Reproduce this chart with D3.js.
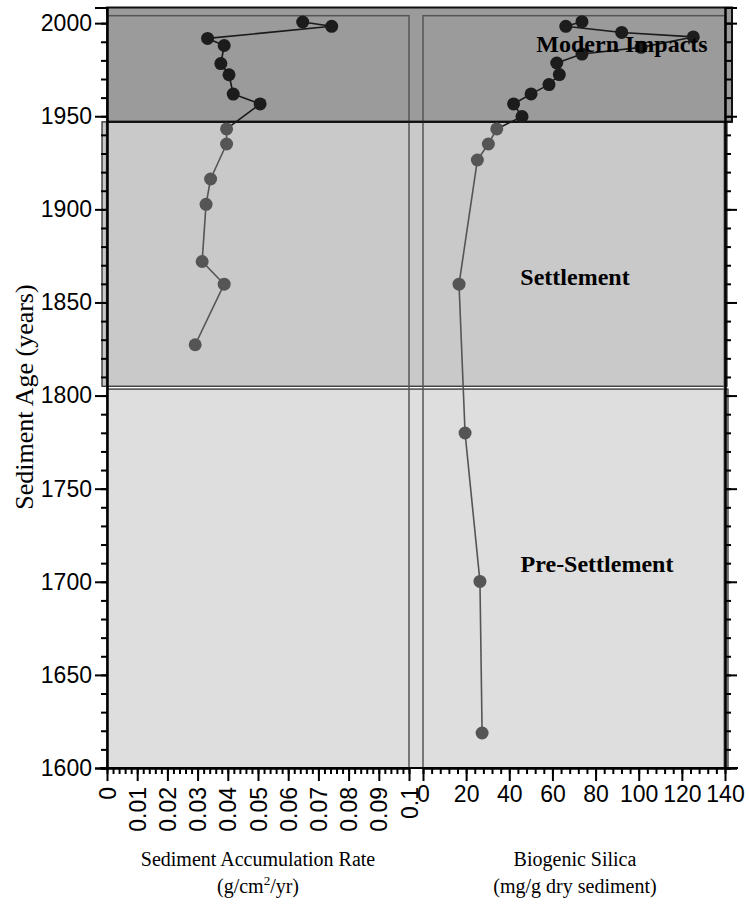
<!DOCTYPE html>
<html>
<head>
<meta charset="utf-8">
<script src="https://cdn.jsdelivr.net/npm/d3@7"></script>
<style>
  body { margin: 0; background: #fff; }
  .tick text { font-family: "Liberation Sans", Arial, sans-serif; font-size: 23px; fill: #000; }
  .domain, .tick line { stroke: #000; stroke-width: 2px; }
</style>
</head>
<body>
<div id="chart"></div>
<script>
// Sediment accumulation rate (left panel)
var rateYears  = [2000.6, 1998.3, 1991.8, 1988.0, 1978.3, 1972.3, 1961.9, 1956.6, 1943.2, 1935.1, 1916.3, 1902.7, 1872.0, 1859.8, 1827.3];
var rateValues = [0.0648, 0.0744, 0.0333, 0.0388, 0.0377, 0.0404, 0.0418, 0.0507, 0.0396, 0.0396, 0.0343, 0.0328, 0.0315, 0.0388, 0.0292];

// Biogenic silica (right panel)
var silicaYears  = [2000.8, 1998.3, 1995.0, 1992.6, 1987.0, 1983.4, 1978.6, 1972.4, 1967.0, 1962.0, 1956.6, 1949.8, 1943.2, 1935.1, 1926.5, 1859.8, 1779.9, 1700.2, 1618.8];
var silicaValues = [73.7, 66.2, 92.1, 125.3, 101.1, 73.7, 62.0, 63.2, 58.4, 50.1, 42.0, 45.9, 34.2, 30.3, 25.2, 16.7, 19.5, 26.4, 27.4];

// Periods
var periodNames = ["Modern Impacts", "Settlement", "Pre-Settlement"];
var periodStart = [1947, 1805, 1600];
var periodEnd   = [2008.4, 1947, 1803.5];

var yTicks = [1600, 1650, 1700, 1750, 1800, 1850, 1900, 1950, 2000];
var rateTicks = [0, 0.01, 0.02, 0.03, 0.04, 0.05, 0.06, 0.07, 0.08, 0.09, 0.1];
var silicaTicks = [0, 20, 40, 60, 80, 100, 120, 140];

var width = 749, height = 921;
var svg = d3.select("#chart").append("svg").attr("width", width).attr("height", height);

var y = d3.scaleLinear().domain([1600, 2008.4]).range([768, 7.5]);
var xRate = d3.scaleLinear().domain([0, 0.1]).range([107, 409]);
var xSil = d3.scaleLinear().domain([0, 140]).range([423, 725]);

// period bands
var bandFill = ["#9b9b9b", "#c9c9c9", "#dedede"];
var bandX0 = [107, 102, 107];
var bandX1 = [732, 727, 728];

// draw the lower bands first so the modern box sits on top
[2, 1].forEach(function(i) {
  svg.append("rect")
    .attr("x", bandX0[i]).attr("y", y(periodEnd[i]))
    .attr("width", bandX1[i] - bandX0[i]).attr("height", y(periodStart[i]) - y(periodEnd[i]))
    .attr("fill", bandFill[i]).attr("stroke", "#222").attr("stroke-width", 1.2);
});
svg.append("line").attr("x1", 106.5).attr("x2", 106.5)
  .attr("y1", y(periodEnd[1])).attr("y2", y(periodStart[1]))
  .attr("stroke", "#222").attr("stroke-width", 1.2);
svg.append("rect").attr("x", 723).attr("y", y(periodEnd[1])).attr("width", 4)
  .attr("height", y(1600) - y(periodEnd[1])).attr("fill", "#777").attr("opacity", 0.6);

svg.append("rect")
  .attr("x", bandX0[0]).attr("y", y(periodEnd[0]))
  .attr("width", bandX1[0] - bandX0[0]).attr("height", y(periodStart[0]) - y(periodEnd[0]))
  .attr("fill", bandFill[0]).attr("stroke", "#111").attr("stroke-width", 2);

// panel frames
[[107, 409], [423, 725]].forEach(function(p) {
  svg.append("rect").attr("x", p[0]).attr("y", y(2004)).attr("width", p[1] - p[0])
    .attr("height", y(1600) - y(2004))
    .attr("fill", "none").attr("stroke", "#555").attr("stroke-width", 1.5);
});

// modern band bottom border over frames
svg.append("line").attr("x1", 107).attr("x2", 732).attr("y1", y(1947)).attr("y2", y(1947))
  .attr("stroke", "#111").attr("stroke-width", 2);

// series
function drawSeries(xs, years, values) {
  var pts = years.map(function(d, i) { return { year: d, v: values[i] }; });
  for (var i = 0; i < pts.length - 1; i++) {
    var modern = pts[i].year > 1947;
    svg.append("line")
      .attr("x1", xs(pts[i].v)).attr("y1", y(pts[i].year))
      .attr("x2", xs(pts[i + 1].v)).attr("y2", y(pts[i + 1].year))
      .attr("stroke", modern ? "#1a1a1a" : "#555").attr("stroke-width", 1.6);
  }
  svg.append("g").selectAll("circle").data(pts).enter().append("circle")
    .attr("cx", function(d) { return xs(d.v); })
    .attr("cy", function(d) { return y(d.year); })
    .attr("r", 6.5)
    .attr("fill", function(d) { return d.year > 1947 ? "#1c1c1c" : "#555"; });
}
drawSeries(xRate, rateYears, rateValues);
drawSeries(xSil, silicaYears, silicaValues);

// y axes
var minorY = d3.range(1600, 2001, 10);
svg.append("g").attr("transform", "translate(107,0)")
  .call(d3.axisLeft(y).tickValues(minorY).tickSize(6).tickFormat(""));
svg.append("g").attr("transform", "translate(107,0)")
  .call(d3.axisLeft(y).tickValues(yTicks).tickSize(12).tickPadding(3).tickFormat(d3.format("d")));
svg.append("g").attr("transform", "translate(725,0)")
  .call(d3.axisRight(y).tickValues(minorY).tickSize(6).tickFormat(""));
svg.append("g").attr("transform", "translate(725,0)")
  .call(d3.axisRight(y).tickValues(yTicks).tickSize(12).tickFormat(""));
svg.selectAll(".domain").attr("stroke", "#000");

// x axes
svg.append("g").attr("transform", "translate(0,768)")
  .call(d3.axisBottom(xRate).tickValues(d3.range(0, 0.1001, 0.002)).tickSize(6).tickFormat("").tickSizeOuter(0));
var gr = svg.append("g").attr("transform", "translate(0,768)")
  .call(d3.axisBottom(xRate).tickValues(rateTicks).tickSize(13).tickSizeOuter(0)
    .tickFormat(function(d) { return d === 0 ? "0" : String(+d.toFixed(2)); }));
gr.selectAll(".tick text")
  .attr("text-anchor", "end").attr("y", 0).attr("dy", "0.35em")
  .attr("transform", "translate(0,19) rotate(-90)");

svg.append("g").attr("transform", "translate(0,768)")
  .call(d3.axisBottom(xSil).tickValues(d3.range(0, 141, 4)).tickSize(6).tickFormat("").tickSizeOuter(0));
svg.append("g").attr("transform", "translate(0,768)")
  .call(d3.axisBottom(xSil).tickValues(silicaTicks).tickSize(13).tickPadding(5).tickSizeOuter(0));
svg.append("line").attr("x1", 100).attr("x2", 738).attr("y1", 768).attr("y2", 768)
  .attr("stroke", "#000").attr("stroke-width", 2);

// period labels
var labelX = [622, 575, 597];
var labelY = [52, 285, 572];
periodNames.forEach(function(n, i) {
  svg.append("text").attr("x", labelX[i]).attr("y", labelY[i]).attr("text-anchor", "middle")
    .attr("font-family", "Liberation Serif, Times New Roman, serif").attr("font-weight", "bold")
    .attr("font-size", 24).attr("fill", "#000").text(n);
});

// axis titles
var serif = "Liberation Serif, Times New Roman, serif";
svg.append("text").attr("x", 258).attr("y", 866).attr("text-anchor", "middle")
  .attr("font-family", serif).attr("font-size", 20).text("Sediment Accumulation Rate");
var unit = svg.append("text").attr("x", 258).attr("y", 893).attr("text-anchor", "middle")
  .attr("font-family", serif).attr("font-size", 20);
unit.append("tspan").text("(g/cm");
unit.append("tspan").attr("font-size", 13).attr("dy", -8).text("2");
unit.append("tspan").attr("dy", 8).text("/yr)");

svg.append("text").attr("x", 575).attr("y", 866).attr("text-anchor", "middle")
  .attr("font-family", serif).attr("font-size", 20).text("Biogenic Silica");
svg.append("text").attr("x", 575).attr("y", 893).attr("text-anchor", "middle")
  .attr("font-family", serif).attr("font-size", 20).text("(mg/g dry sediment)");

svg.append("text").attr("transform", "translate(33,397) rotate(-90)").attr("text-anchor", "middle")
  .attr("font-family", serif).attr("font-size", 26).text("Sediment Age (years)");
</script>
</body>
</html>
